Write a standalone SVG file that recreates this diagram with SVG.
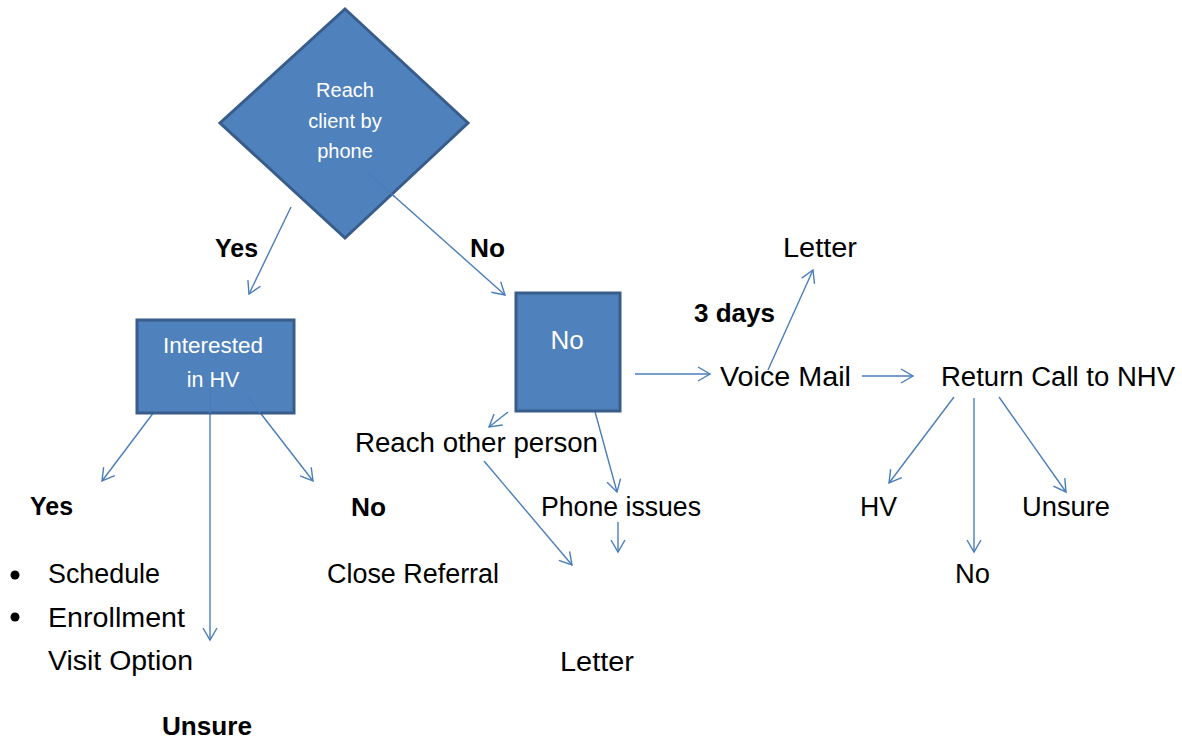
<svg xmlns="http://www.w3.org/2000/svg" width="1182" height="743" viewBox="0 0 1182 743">
<defs>
<marker id="arr" markerUnits="userSpaceOnUse" markerWidth="16" markerHeight="18" refX="13" refY="7.5" orient="auto" viewBox="0 0 16 15">
<path d="M1,0.5 L13,7.5 L1,14.5" fill="none" stroke="#4a7ebb" stroke-width="1.4"/>
</marker>
<style>
.shape{fill:#4f81bd;stroke:#385d8a;stroke-width:3}
.wt{fill:#ffffff;font-family:"Liberation Sans",Arial,sans-serif;text-anchor:middle}
.t{fill:#000;font-family:"Liberation Sans",Arial,sans-serif;font-size:27px}
.b{font-weight:bold;font-size:25.5px}
.c{fill:none;stroke:#4a7ebb;stroke-width:1.4;marker-end:url(#arr)}
</style>
</defs>
<rect width="1182" height="743" fill="#ffffff"/>

<g id="connectors">
<line class="c" x1="291" y1="207" x2="249" y2="294"/>
<line class="c" x1="367" y1="172" x2="505" y2="295"/>
<line class="c" x1="154" y1="412" x2="102" y2="481"/>
<line class="c" x1="210" y1="388" x2="210" y2="640"/>
<line class="c" x1="248" y1="397" x2="313" y2="481"/>
<line class="c" x1="508" y1="412" x2="489" y2="427"/>
<line class="c" x1="594" y1="408" x2="617" y2="492"/>
<line class="c" x1="484" y1="461" x2="572" y2="565"/>
<line class="c" x1="618" y1="522" x2="618" y2="552"/>
<line class="c" x1="635" y1="374" x2="710" y2="374"/>
<line class="c" x1="768" y1="370" x2="813" y2="270"/>
<line class="c" x1="862" y1="376" x2="913" y2="376"/>
<line class="c" x1="954" y1="397" x2="889" y2="483"/>
<line class="c" x1="974" y1="398" x2="974" y2="552"/>
<line class="c" x1="999" y1="397" x2="1066" y2="492"/>
</g>

<g id="decision">
<polygon class="shape" points="345,9 468,123 345,238 220,123"/>
<line x1="367" y1="172" x2="395" y2="197" stroke="#4a7ebb" stroke-width="1.4"/>
<text class="wt" font-size="20" x="345" y="97">Reach</text>
<text class="wt" font-size="20" x="345" y="128">client by</text>
<text class="wt" font-size="20" x="345" y="158">phone</text>
</g>

<g id="interested">
<rect class="shape" x="137" y="320" width="157" height="93"/>
<line x1="210" y1="388" x2="210" y2="413" stroke="#4a7ebb" stroke-width="1.4"/>
<line x1="248" y1="397" x2="260" y2="413" stroke="#4a7ebb" stroke-width="1.4"/>
<text class="wt" font-size="21.5" x="213" y="353" textLength="100" lengthAdjust="spacingAndGlyphs">Interested</text>
<text class="wt" font-size="21.5" x="213" y="387">in HV</text>
</g>

<g id="nobox">
<rect class="shape" x="516" y="293" width="104" height="118"/>
<text class="wt" font-size="26" x="567" y="349">No</text>
</g>

<g id="labels">
<text class="t b" x="215" y="257" textLength="43" lengthAdjust="spacingAndGlyphs">Yes</text>
<text class="t b" x="470" y="257" textLength="35" lengthAdjust="spacingAndGlyphs">No</text>
<text class="t" x="783" y="257" textLength="74" lengthAdjust="spacingAndGlyphs">Letter</text>
<text class="t b" x="694" y="322" textLength="81" lengthAdjust="spacingAndGlyphs">3 days</text>
<text class="t" x="720" y="386" textLength="131" lengthAdjust="spacingAndGlyphs">Voice Mail</text>
<text class="t" x="941" y="386" textLength="234" lengthAdjust="spacingAndGlyphs">Return Call to NHV</text>
<text class="t" x="355" y="452" textLength="243" lengthAdjust="spacingAndGlyphs">Reach other person</text>
<text class="t b" x="30" y="515" textLength="43" lengthAdjust="spacingAndGlyphs">Yes</text>
<text class="t b" x="351" y="516" textLength="35" lengthAdjust="spacingAndGlyphs">No</text>
<text class="t" x="541" y="516" textLength="160" lengthAdjust="spacingAndGlyphs">Phone issues</text>
<text class="t" x="860" y="516" textLength="37" lengthAdjust="spacingAndGlyphs">HV</text>
<text class="t" x="1022" y="516" textLength="88" lengthAdjust="spacingAndGlyphs">Unsure</text>
<circle cx="15" cy="575" r="4.5" fill="#000"/>
<text class="t" x="48" y="583" textLength="112" lengthAdjust="spacingAndGlyphs">Schedule</text>
<text class="t" x="327" y="583" textLength="172" lengthAdjust="spacingAndGlyphs">Close Referral</text>
<text class="t" x="955" y="583" textLength="35" lengthAdjust="spacingAndGlyphs">No</text>
<circle cx="15" cy="617" r="4.5" fill="#000"/>
<text class="t" x="48" y="627" textLength="137" lengthAdjust="spacingAndGlyphs">Enrollment</text>
<text class="t" x="48" y="670" textLength="145" lengthAdjust="spacingAndGlyphs">Visit Option</text>
<text class="t" x="560" y="671" textLength="74" lengthAdjust="spacingAndGlyphs">Letter</text>
<text class="t b" x="162" y="735" textLength="90" lengthAdjust="spacingAndGlyphs">Unsure</text>
</g>
</svg>
